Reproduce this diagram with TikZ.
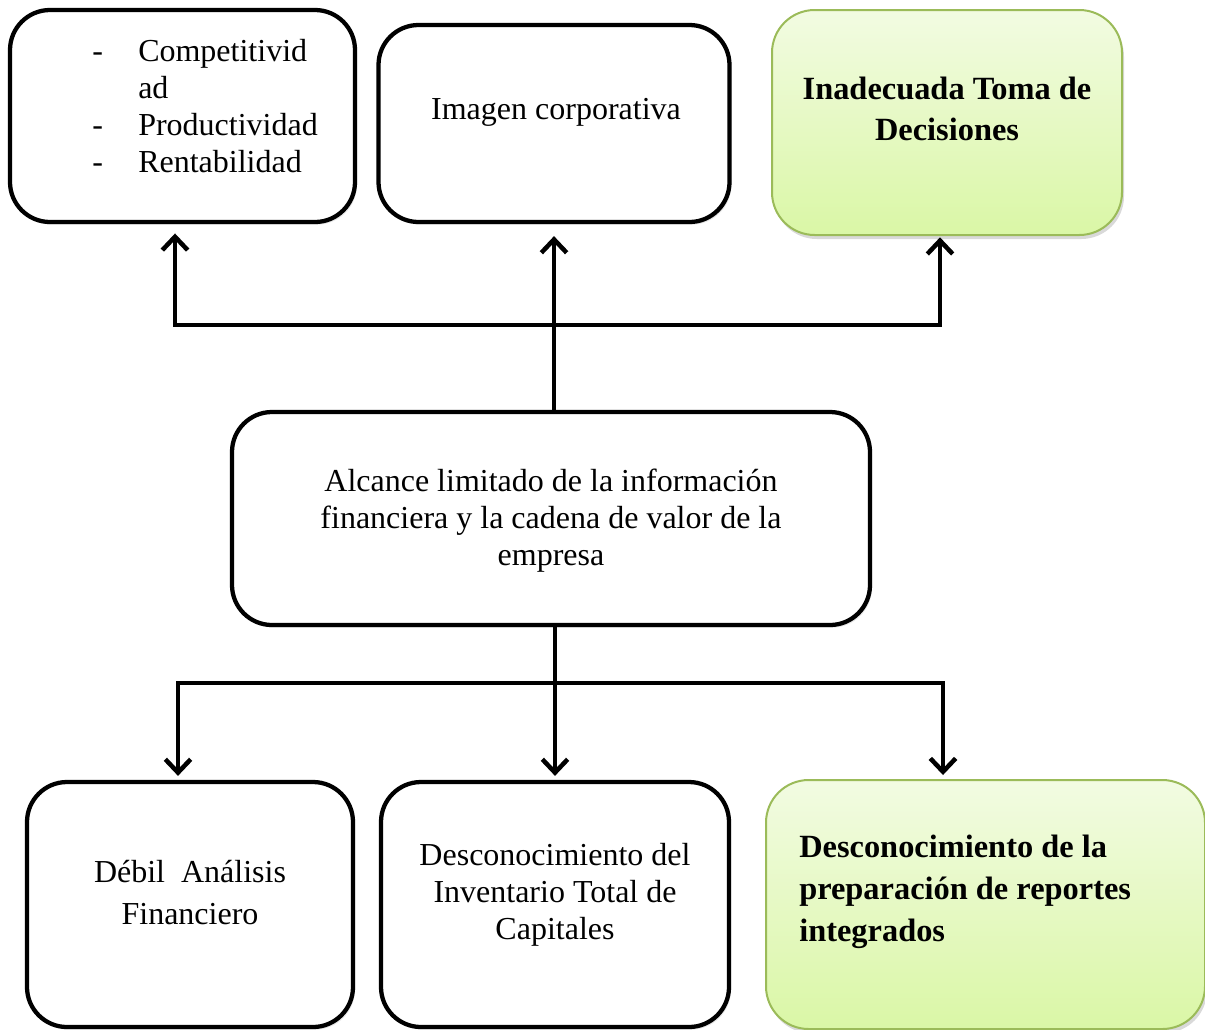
\documentclass[tikz,border=0pt]{standalone}
\usepackage{fontspec}
\setmainfont{Liberation Serif}
\usetikzlibrary{arrows.meta,shadows,calc}
\definecolor{verdeborde}{RGB}{155,187,89}
\definecolor{verdearriba}{RGB}{242,251,226}
\definecolor{verdeabajo}{RGB}{218,247,166}
\tikzset{
  caja/.style={draw=black, line width=3.2pt, rounded corners=30pt, fill=white,
    drop shadow={opacity=0.2, shadow xshift=1.5pt, shadow yshift=-2pt}},
  cajaverde/.style={draw=verdeborde, line width=1.5pt, rounded corners=32pt,
    top color=verdearriba, bottom color=verdeabajo,
    drop shadow={opacity=0.3, shadow xshift=1.5pt, shadow yshift=-3pt}},
  texto/.style={inner sep=0pt, font=\fontsize{24}{27.75}\selectfont},
  negrita/.style={inner sep=0pt, font=\bfseries\fontsize{24.3}{30.75}\selectfont},
  linea/.style={line width=3pt, line cap=rect},
  flecha/.style={line width=3.2pt, -{Straight Barb[length=10pt,width=19pt,line width=3.4pt]}},
}

\begin{document}
\begin{tikzpicture}[x=0.75pt,y=-0.75pt]
  \useasboundingbox (0,0) rectangle (1205,1029);
  \clip (0,0) rectangle (1205,1029);

  \node[caja, minimum width=258.75pt, minimum height=159pt] (efectos) at (182.5,116) {};
  \node[caja, minimum width=263.25pt, minimum height=147.75pt] (imagen) at (554,123.5) {};
  \node[cajaverde, minimum width=262.5pt, minimum height=168.75pt] (decisiones) at (947,122.5) {};
  \node[caja, minimum width=478.5pt, minimum height=159.75pt] (alcance) at (551,518.5) {};
  \node[caja, minimum width=244.5pt, minimum height=183.75pt] (analisis) at (190,904.5) {};
  \node[caja, minimum width=261pt, minimum height=183.75pt] (capitales) at (555,904.5) {};
  \node[cajaverde, minimum width=329.25pt, minimum height=186.75pt] (reportes) at (985.5,904.5) {};

  \node[texto, anchor=base west] (lista) at (92,61)
    {\begin{tabular}[t]{@{}p{34.5pt}@{}l@{}}
      - & Competitivid\\
        & ad\\
      - & Productividad\\
      - & Rentabilidad
    \end{tabular}};
  \node[texto] (imagentxt) at (556,112) {Imagen corporativa};
  \node[negrita, align=center] (decisionestxt) at (947,109) {Inadecuada Toma de\\Decisiones};
  \node[texto, align=center] (alcancetxt) at (551,521)
    {Alcance limitado de la información\\financiera y la cadena de valor de la\\empresa};
  \node[texto, align=center, font=\fontsize{24}{31.5}\selectfont] (analisistxt) at (190,893)
    {Débil\ \ Análisis\\Financiero};
  \node[texto, align=center] (capitalestxt) at (555,895)
    {Desconocimiento del\\Inventario Total de\\Capitales};
  \node[negrita, align=left, anchor=west, font=\bfseries\fontsize{24.3}{31.5}\selectfont] (reportestxt) at (799,892)
    {Desconocimiento de la\\preparación de reportes\\integrados};

  \coordinate (bus1) at (175,325);
  \coordinate (bus2) at (940,325);
  \coordinate (bus3) at (178,683);
  \coordinate (bus4) at (943,683);

  \draw[linea] (bus1) -- (bus2);
  \draw[flecha, shorten >=7pt] (bus1) -- (bus1 |- efectos.south);
  \draw[flecha, shorten >=9pt] (alcance.north -| imagen.south) -- (imagen.south);
  \draw[flecha, shorten >=1pt] (bus2) -- (bus2 |- decisiones.south);

  \draw[linea] (bus3) -- (bus4);
  \draw[flecha, shorten >=3pt] (alcance.south -| capitales.north) -- (capitales.north);
  \draw[flecha, shorten >=3pt] (bus3) -- (bus3 |- analisis.north);
  \draw[flecha, shorten >=3pt] (bus4) -- (bus4 |- reportes.north);
\end{tikzpicture}
\end{document}
